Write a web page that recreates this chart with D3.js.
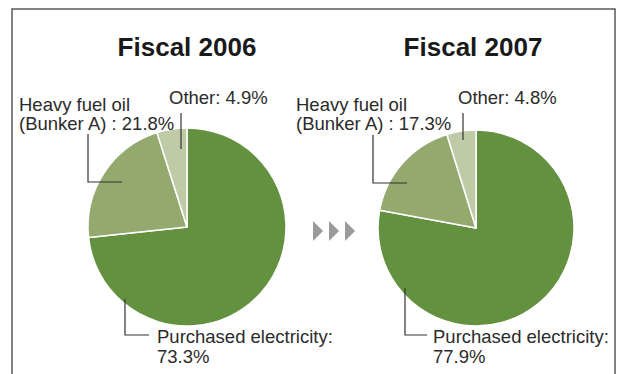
<!DOCTYPE html>
<html>
<head>
<meta charset="utf-8">
<script src="https://cdn.jsdelivr.net/npm/d3@7"></script>
<style>
  body { margin: 0; background: #fff; }
  text { font-family: "Liberation Sans", Arial, sans-serif; fill: #2b2b2b; }
</style>
</head>
<body>
<div id="chart"></div>
<script>
// Data
var years = ["Fiscal 2006", "Fiscal 2007"];
var categories = ["Purchased electricity", "Heavy fuel oil (Bunker A)", "Other"];
var share2006 = [73.3, 21.8, 4.9];
var share2007 = [77.9, 17.3, 4.8];

var colors = ["#63913f", "#93a96e", "#bfcaa7"];

function init() {
    var w = 618;
    var h = 374;

    var svg = d3.select("#chart")
        .append("svg")
        .attr("width", w)
        .attr("height", h);

    // frame (open at the bottom)
    svg.append("path")
        .attr("d", "M12,374 L12,9 L615,9 L615,374")
        .attr("fill", "none")
        .attr("stroke", "#5a5a5a")
        .attr("stroke-width", 1.5);

    // layout of each pie and its callouts
    var layout = [
        {
            cx: 187, cy: 227, r: 99, titleX: 187,
            other: { tx: 169, ty: 104, lx: 181, y1: 113, y2: 149 },
            heavy: { tx: 19, ty: 111, lx: 88, y1: 134, y2: 182, x2: 122 },
            purch: { tx: 157, ty: 343, lx: 125, y1: 299, y2: 335, x2: 149 }
        },
        {
            cx: 476, cy: 228, r: 98, titleX: 473,
            other: { tx: 458, ty: 104, lx: 463, y1: 113, y2: 140 },
            heavy: { tx: 296, ty: 111, lx: 373, y1: 135, y2: 183, x2: 407 },
            purch: { tx: 433, ty: 343, lx: 405, y1: 288, y2: 335, x2: 427 }
        }
    ];
    var shares = [share2006, share2007];

    var pie = d3.pie().sort(null).value(function (d) { return d; });

    layout.forEach(function (L, i) {
        var vals = shares[i];

        svg.append("text")
            .attr("x", L.titleX)
            .attr("y", 56)
            .attr("text-anchor", "middle")
            .style("font-size", "26px")
            .style("font-weight", "bold")
            .style("fill", "#1a1a1a")
            .text(years[i]);

        var arc = d3.arc().innerRadius(0).outerRadius(L.r);
        var g = svg.append("g").attr("transform", "translate(" + L.cx + "," + L.cy + ")");
        g.selectAll("path")
            .data(pie(vals))
            .enter()
            .append("path")
            .attr("d", arc)
            .attr("fill", function (d, j) { return colors[j]; })
            .attr("stroke", "#fff")
            .attr("stroke-width", 1.5)
            .attr("stroke-linejoin", "round");

        var line = svg.append("g")
            .attr("fill", "none")
            .attr("stroke", "#333")
            .attr("stroke-width", 1.2);

        // Other
        line.append("path")
            .attr("d", "M" + L.other.lx + "," + L.other.y1 + " V" + L.other.y2);
        svg.append("text")
            .attr("x", L.other.tx).attr("y", L.other.ty)
            .style("font-size", "18.5px")
            .text(categories[2] + ": " + vals[2].toFixed(1) + "%");

        // Heavy fuel oil
        line.append("path")
            .attr("d", "M" + L.heavy.lx + "," + L.heavy.y1 + " V" + L.heavy.y2 + " H" + L.heavy.x2);
        var t = svg.append("text")
            .attr("x", L.heavy.tx).attr("y", L.heavy.ty)
            .style("font-size", "18.5px");
        t.append("tspan").attr("x", L.heavy.tx).text("Heavy fuel oil");
        t.append("tspan").attr("x", L.heavy.tx).attr("dy", 19)
            .text("(Bunker A) : " + vals[1].toFixed(1) + "%");

        // Purchased electricity
        line.append("path")
            .attr("d", "M" + L.purch.lx + "," + L.purch.y1 + " V" + L.purch.y2 + " H" + L.purch.x2);
        var p = svg.append("text")
            .attr("x", L.purch.tx).attr("y", L.purch.ty)
            .style("font-size", "18.5px");
        p.append("tspan").attr("x", L.purch.tx).text(categories[0] + ":");
        p.append("tspan").attr("x", L.purch.tx).attr("dy", 20)
            .text(vals[0].toFixed(1) + "%");
    });

    // arrows between pies
    var arrowX = d3.scaleLinear().domain([0, 2]).range([313, 345]);
    svg.selectAll("path.arrow")
        .data([0, 1, 2])
        .enter()
        .append("path")
        .attr("class", "arrow")
        .attr("d", function (d) {
            var x = arrowX(d);
            return "M" + x + ",221 L" + (x + 10) + ",231 L" + x + ",241 Z";
        })
        .attr("fill", "#9a9a9a");
}

window.onload = init;
</script>
</body>
</html>
